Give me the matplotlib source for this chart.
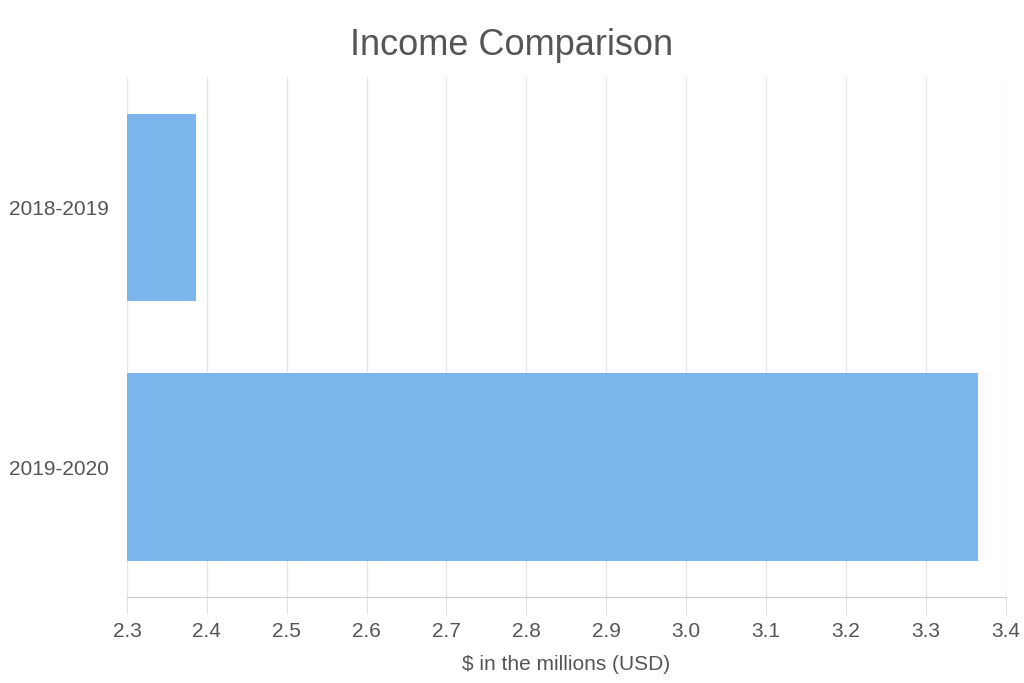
import matplotlib
matplotlib.use("Agg")
import matplotlib.pyplot as plt

# ── データ ──
periods = ['2018-2019', '2019-2020']
income = [2.386, 3.365]  # $ millions
x_ticks = [2.3, 2.4, 2.5, 2.6, 2.7, 2.8, 2.9, 3.0, 3.1, 3.2, 3.3, 3.4]

plt.rcParams['font.family'] = ['Liberation Sans', 'DejaVu Sans']

fig = plt.figure(figsize=(10.24, 6.83), dpi=100, facecolor='white')
ax = fig.add_axes([0.124, 0.126, 0.858, 0.761])

pos = range(len(periods))
ax.barh(pos, [v - x_ticks[0] for v in income], left=x_ticks[0],
        height=0.72, color='#7cb5ec', zorder=3)

ax.set_xlim(x_ticks[0], x_ticks[-1])
ax.set_ylim(len(periods) - 0.5, -0.5)
ax.set_yticks(list(pos))
ax.set_yticklabels(periods, fontsize=15, color='#555555')
ax.set_xticks(x_ticks)
ax.set_xticklabels([f'{t:.1f}' for t in x_ticks], fontsize=15, color='#555555')

ax.grid(axis='x', color='#e6e6e6', linewidth=1, zorder=0)
for s in ['top', 'right', 'left']:
    ax.spines[s].set_visible(False)
ax.spines['bottom'].set_color('#cccccc')
ax.tick_params(axis='y', length=0, pad=13)
ax.tick_params(axis='x', length=12, color='#e0e0e0', pad=6)

ax.set_xlabel(r'\$ in the millions (USD)', fontsize=15, color='#555555', labelpad=10)
fig.text(0.5, 0.933, 'Income Comparison', ha='center', va='center',
         fontsize=26, color='#555555')

fig.savefig('out.png', dpi=100, facecolor='white')
